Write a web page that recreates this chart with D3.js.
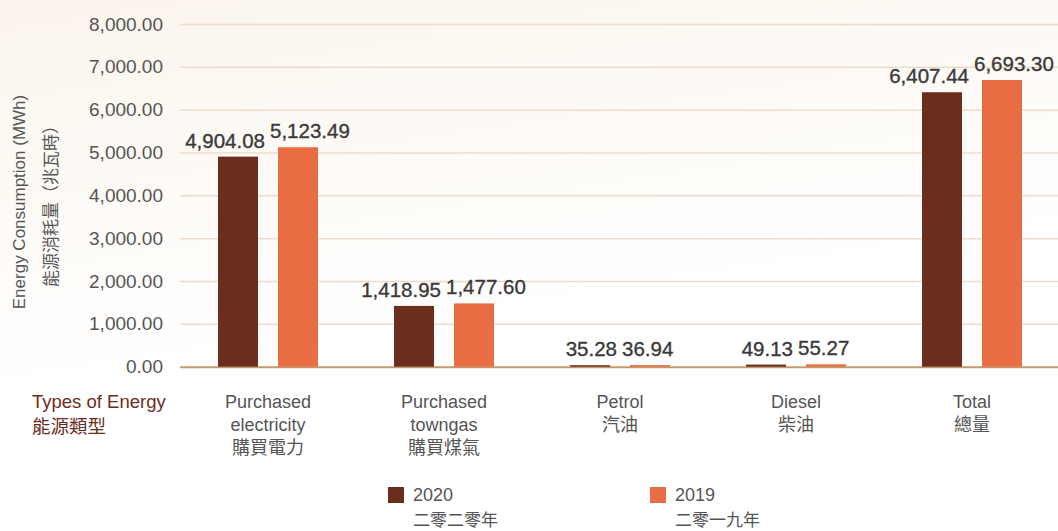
<!DOCTYPE html>
<html>
<head>
<meta charset="utf-8">
<script src="https://cdn.jsdelivr.net/npm/d3@7"></script>
<style>
  html, body { margin: 0; padding: 0; background: #fff; }
  svg { display: block; }
  text { font-family: "Liberation Sans", Arial, sans-serif; }
  .zh { font-family: "Noto Sans CJK TC", "Noto Sans CJK SC", sans-serif; }
</style>
</head>
<body>
<svg id="chart" width="1058" height="531"></svg>
<script>
// data
const categories = ["Purchased electricity", "Purchased towngas", "Petrol", "Diesel", "Total"];
const categoryLabels = [
  ["Purchased", "electricity", "購買電力"],
  ["Purchased", "towngas", "購買煤氣"],
  ["Petrol", "汽油"],
  ["Diesel", "柴油"],
  ["Total", "總量"]
];
const values2020 = [4904.08, 1418.95, 35.28, 49.13, 6407.44];
const values2019 = [5123.49, 1477.60, 36.94, 55.27, 6693.30];
const seriesNames = ["2020", "2019"];
const seriesNamesZh = ["二零二零年", "二零一九年"];
const yTicks = [0, 1000, 2000, 3000, 4000, 5000, 6000, 7000, 8000];

const colors = ["#6b2d1c", "#e86d43"];

const svg = d3.select('#chart');
const width = +svg.attr('width');
const height = +svg.attr('height');

// background wash
const defs = svg.append('defs');
const grad = defs.append('linearGradient')
    .attr('id', 'bg').attr('x1', 0).attr('y1', 0).attr('x2', 0.3).attr('y2', 1);
grad.append('stop').attr('offset', '0%').attr('stop-color', '#faf4ec');
grad.append('stop').attr('offset', '45%').attr('stop-color', '#fefcf9');
grad.append('stop').attr('offset', '70%').attr('stop-color', '#ffffff');
svg.append('rect').attr('width', width).attr('height', height).attr('fill', 'url(#bg)');

const plotLeft = 180, plotRight = 1060, plotTop = 24, plotBottom = 366.7;

const x = d3.scaleBand().domain(categories).range([plotLeft, plotRight]).padding(0);
const y = d3.scaleLinear().domain([0, 8000]).range([plotBottom, plotTop]);

const fmt = d3.format(",.2f");

// grid + y labels
const yAxis = svg.append('g')
    .attr('transform', `translate(${plotLeft},0)`)
    .call(d3.axisLeft(y).tickValues(yTicks).tickFormat(fmt).tickSize(-(width - plotLeft)).tickPadding(17));
yAxis.attr('font-family', null).attr('font-size', null);
yAxis.select('.domain').remove();
yAxis.selectAll('.tick line')
    .attr('stroke', d => d === 0 ? '#c29a6e' : '#ecdcc9')
    .attr('stroke-width', d => d === 0 ? 2 : 1.5);
yAxis.selectAll('.tick text')
    .attr('fill', '#555')
    .style('font-size', '19px');

// y titles
svg.append('text')
    .attr('transform', 'translate(25,202) rotate(-90)')
    .attr('text-anchor', 'middle')
    .attr('fill', '#555')
    .style('font-size', '17px')
    .text('Energy Consumption (MWh)');
svg.append('text')
    .attr('class', 'zh')
    .attr('transform', 'translate(57,202) rotate(-90)')
    .attr('text-anchor', 'middle')
    .attr('fill', '#555')
    .style('font-size', '17px')
    .text('能源消耗量（兆瓦時）');

// bars
const barW = 40, gap = 20;
const series = [values2020, values2019];
series.forEach((vals, si) => {
  const off = si === 0 ? -(gap / 2 + barW) : gap / 2;
  svg.append('g').selectAll('rect')
    .data(vals)
    .enter()
    .append('rect')
      .attr('x', (d, i) => x(categories[i]) + x.bandwidth() / 2 + off)
      .attr('y', d => y(d))
      .attr('width', barW)
      .attr('height', d => y(0) - y(d))
      .attr('fill', colors[si]);

  svg.append('g').selectAll('text')
    .data(vals)
    .enter()
    .append('text')
      .attr('x', (d, i) => x(categories[i]) + x.bandwidth() / 2 + (si === 0 ? -3 : 2))
      .attr('y', d => y(d) - 9)
      .attr('text-anchor', si === 0 ? 'end' : 'start')
      .attr('fill', '#3a3a3a')
      .attr('stroke', '#3a3a3a')
      .attr('stroke-width', 0.35)
      .style('font-size', '20.5px')
      .text(d => fmt(d));
});

// category labels
const cat = svg.append('g').selectAll('text')
    .data(categoryLabels)
    .enter()
    .append('text')
      .attr('x', (d, i) => x(categories[i]) + x.bandwidth() / 2)
      .attr('y', 408)
      .attr('text-anchor', 'middle')
      .attr('fill', '#555')
      .style('font-size', '18px');
cat.selectAll('tspan')
    .data(d => d)
    .enter()
    .append('tspan')
      .attr('x', function() { return d3.select(this.parentNode).attr('x'); })
      .attr('dy', (d, i) => i === 0 ? 0 : 23)
      .attr('class', d => /[\u4e00-\u9fff]/.test(d) ? 'zh' : null)
      .text(d => d);

svg.append('text')
    .attr('x', 32).attr('y', 408)
    .attr('fill', '#6b2d1c')
    .style('font-size', '18.5px')
    .text('Types of Energy');
svg.append('text')
    .attr('class', 'zh')
    .attr('x', 32).attr('y', 433)
    .attr('fill', '#6b2d1c')
    .style('font-size', '18.5px')
    .text('能源類型');

// legend
const legendX = [388, 650];
seriesNames.forEach((name, i) => {
  const g = svg.append('g').attr('transform', `translate(${legendX[i]},487)`);
  g.append('rect').attr('width', 16).attr('height', 16).attr('fill', colors[i]);
  g.append('text').attr('x', 25).attr('y', 14)
    .attr('fill', '#555').style('font-size', '18px').text(name);
  g.append('text').attr('class', 'zh').attr('x', 25).attr('y', 39)
    .attr('fill', '#555').style('font-size', '17px')
    .text(seriesNamesZh[i]);
});
</script>
</body>
</html>
